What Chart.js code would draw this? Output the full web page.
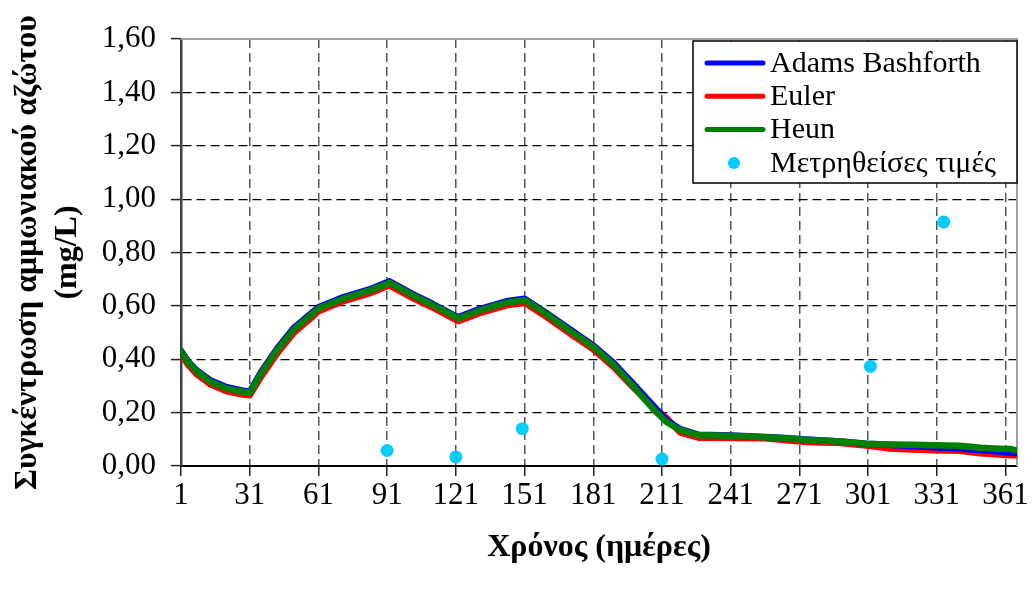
<!DOCTYPE html>
<html>
<head>
<meta charset="utf-8">
<script src="https://cdn.jsdelivr.net/npm/chart.js@4/dist/chart.umd.min.js"></script>
<style>
  html, body { margin: 0; padding: 0; background: #fff; }
  canvas { display: block; }
</style>
</head>
<body>
<canvas id="c" width="1032" height="590"></canvas>
<script>
// ---- data ----
const days = [1, 4, 8, 14, 21, 28, 31, 36, 43, 50, 58, 61, 72, 84, 92, 102, 111, 122, 131, 143, 151, 160, 172, 181, 190, 198, 207, 213, 219, 227,
              241, 256, 263, 274, 289, 300, 310, 320, 330, 341, 350, 358, 363, 366];
const adamsBashforth = [0.432, 0.393, 0.357, 0.32, 0.295, 0.282, 0.278, 0.353, 0.44, 0.515, 0.573, 0.595, 0.633, 0.664, 0.692, 0.645, 0.607, 0.557, 0.587, 0.617, 0.627, 0.576, 0.505, 0.452, 0.385, 0.312, 0.228, 0.172, 0.138, 0.117,
                        0.114, 0.109, 0.106, 0.099, 0.092, 0.083, 0.080, 0.075, 0.070, 0.066, 0.060, 0.054, 0.050, 0.049];
const euler = [0.422, 0.38, 0.343, 0.305, 0.28, 0.268, 0.265, 0.335, 0.422, 0.497, 0.556, 0.58, 0.618, 0.649, 0.677, 0.63, 0.593, 0.543, 0.572, 0.602, 0.612, 0.562, 0.49, 0.437, 0.37, 0.298, 0.222, 0.18, 0.125, 0.106,
               0.105, 0.104, 0.098, 0.090, 0.086, 0.077, 0.066, 0.062, 0.059, 0.057, 0.048, 0.043, 0.040, 0.040];
const heun = [0.43, 0.39, 0.353, 0.315, 0.29, 0.278, 0.274, 0.347, 0.434, 0.509, 0.568, 0.59, 0.628, 0.659, 0.687, 0.64, 0.603, 0.553, 0.582, 0.612, 0.622, 0.572, 0.50, 0.447, 0.378, 0.303, 0.215, 0.165, 0.134, 0.115,
              0.113, 0.108, 0.105, 0.098, 0.092, 0.083, 0.081, 0.080, 0.078, 0.076, 0.068, 0.065, 0.064, 0.058];
const measuredDays = [91, 121, 150, 211, 302, 334];
const measuredValues = [0.058, 0.034, 0.14, 0.026, 0.373, 0.914];
const xTicks = [1, 31, 61, 91, 121, 151, 181, 211, 241, 271, 301, 331, 361];
const yTicks = [0, 0.2, 0.4, 0.6, 0.8, 1.0, 1.2, 1.4, 1.6];
const seriesNames = ['Adams Bashforth', 'Euler', 'Heun', 'Μετρηθείσες τιμές'];
const xTitle = 'Χρόνος (ημέρες)';
const yTitle = ['Συγκέντρωση αμμωνιακού αζώτου', '(mg/L)'];

const FONT = "'Liberation Serif', 'Times New Roman', serif";
Chart.defaults.font.family = FONT;
Chart.defaults.color = '#000';

const toXY = (xs, ys) => xs.map((x, i) => ({ x: x, y: ys[i] }));

const frame = {
  id: 'frame',
  beforeDatasetsDraw(chart) {
    const { ctx, chartArea: a } = chart;
    ctx.save();
    ctx.strokeStyle = '#a0a0a0';
    ctx.lineWidth = 2;
    ctx.beginPath();
    ctx.moveTo(a.left, a.top);
    ctx.lineTo(a.right, a.top);
    ctx.lineTo(a.right, a.bottom);
    ctx.stroke();
    ctx.restore();
  }
};

const boxLegend = {
  id: 'boxLegend',
  afterDraw(chart) {
    const { ctx, chartArea: a } = chart;
    const w = 324, h = 142;
    const x1 = a.right - w, y1 = a.top + 2;
    ctx.save();
    ctx.fillStyle = '#fff';
    ctx.fillRect(x1, y1, w, h);
    ctx.strokeStyle = '#000';
    ctx.lineWidth = 1.5;
    ctx.strokeRect(x1, y1, w, h);
    ctx.font = '30px ' + FONT;
    ctx.textBaseline = 'middle';
    ctx.textAlign = 'left';
    chart.data.datasets.forEach((ds, i) => {
      const y = y1 + 22 + i * 33.3;
      if (ds.type === 'scatter') {
        ctx.fillStyle = ds.backgroundColor;
        ctx.beginPath();
        ctx.arc(x1 + 41, y, 6, 0, Math.PI * 2);
        ctx.fill();
      } else {
        ctx.strokeStyle = ds.borderColor;
        ctx.lineWidth = 5;
        ctx.lineCap = 'round';
        ctx.beginPath();
        ctx.moveTo(x1 + 14, y);
        ctx.lineTo(x1 + 70, y);
        ctx.stroke();
      }
      ctx.fillStyle = '#000';
      ctx.fillText(ds.label, x1 + 77, y + 1);
    });
    ctx.restore();
  }
};

new Chart(document.getElementById('c'), {
  data: {
    datasets: [
      { type: 'line', label: seriesNames[0], data: toXY(days, adamsBashforth), borderColor: '#0000ff', backgroundColor: '#0000ff', borderWidth: 6.5, pointRadius: 0, order: 2, borderJoinStyle: 'round', borderCapStyle: 'round' },
      { type: 'line', label: seriesNames[1], data: toXY(days, euler), borderColor: '#ff0000', backgroundColor: '#ff0000', borderWidth: 6.5, pointRadius: 0, order: 3, borderJoinStyle: 'round', borderCapStyle: 'round' },
      { type: 'line', label: seriesNames[2], data: toXY(days, heun), borderColor: '#008000', backgroundColor: '#008000', borderWidth: 6.5, pointRadius: 0, order: 1, borderJoinStyle: 'round', borderCapStyle: 'round' },
      { type: 'scatter', label: seriesNames[3], data: toXY(measuredDays, measuredValues), backgroundColor: '#00ccff', borderWidth: 0, pointRadius: 6.5, order: 0 }
    ]
  },
  options: {
    responsive: false,
    animation: false,
    devicePixelRatio: 1,
    layout: { padding: { top: 39, right: 15, bottom: 0, left: 0 } },
    plugins: { legend: { display: false }, tooltip: { enabled: false } },
    scales: {
      x: {
        type: 'linear',
        min: 1,
        max: 366,
        afterBuildTicks: s => { s.ticks = xTicks.map(v => ({ value: v })); },
        afterFit: s => { s.height = 124; },
        ticks: { font: { size: 31 }, padding: 1, maxRotation: 0, autoSkip: false, color: '#000' },
        grid: {
          color: c => (c.tick && c.tick.value === 1) ? 'rgba(0,0,0,0)' : '#555',
          lineWidth: 1.5,
          tickLength: 10,
          tickColor: '#222',
          tickWidth: 1.5,
          tickBorderDash: []
        },
        border: { display: true, color: '#000', width: 2, dash: [9, 5] },
        title: { display: true, text: xTitle, font: { size: 32, weight: 'bold' }, color: '#000', padding: { top: 0, bottom: 23 } }
      },
      y: {
        type: 'linear',
        min: 0,
        max: 1.6,
        afterBuildTicks: s => { s.ticks = yTicks.map(v => ({ value: v })); },
        afterFit: s => { s.width = 181; },
        ticks: { font: { size: 31 }, padding: 15, color: '#000', callback: v => v.toFixed(2).replace('.', ',') },
        grid: {
          color: c => (c.tick && (c.tick.value === 0 || c.tick.value === 1.6)) ? 'rgba(0,0,0,0)' : '#000',
          lineWidth: 1.2,
          tickLength: 10,
          tickColor: '#222',
          tickWidth: 1.5,
          tickBorderDash: []
        },
        border: { display: true, color: '#404040', width: 2.5, dash: [9, 5] },
        title: { display: true, text: yTitle, font: { size: 32, weight: 'bold', lineHeight: 1.25 }, color: '#000', padding: { top: 8, bottom: 0 } }
      }
    }
  },
  plugins: [frame, boxLegend]
});
</script>
</body>
</html>
